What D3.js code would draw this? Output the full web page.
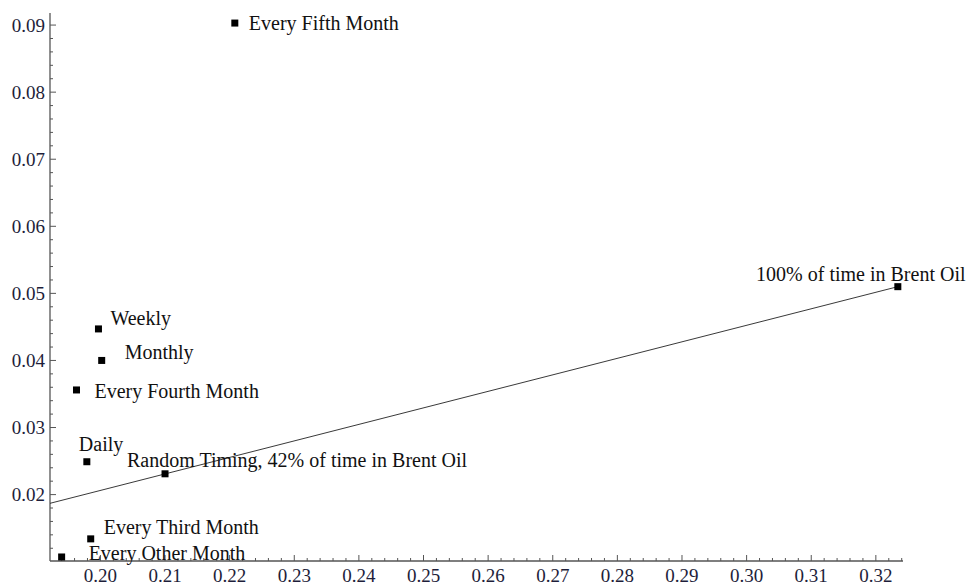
<!DOCTYPE html>
<html><head><meta charset="utf-8">
<script src="https://cdn.jsdelivr.net/npm/d3@7"></script>
<style>body{margin:0;background:#fff;} svg{display:block;}</style>
</head><body>
<svg id="chart" width="968" height="585"></svg>
<script>
const labels = ["Every Fifth Month","100% of time in Brent Oil","Weekly","Monthly","Every Fourth Month","Daily","Random Timing, 42% of time in Brent Oil","Every Third Month","Every Other Month"];
const xValues = [0.2208, 0.3234, 0.1997, 0.2002, 0.1963, 0.1979, 0.2100, 0.1985, 0.1940];
const yValues = [0.0903, 0.0510, 0.0447, 0.0400, 0.0356, 0.0249, 0.0231, 0.0134, 0.0107];
const lineX = [0.1922, 0.3234];
const lineY = [0.0187, 0.0510];
const xTicks = [0.20,0.21,0.22,0.23,0.24,0.25,0.26,0.27,0.28,0.29,0.30,0.31,0.32];
const yTicks = [0.02,0.03,0.04,0.05,0.06,0.07,0.08,0.09];

// label placement (layout only)
const labelOffsets = [[14,0,"start"],[-37,-13,"middle"],[12,-11,"start"],[23,-8,"start"],[18,1,"start"],[-8,-18,"start"],[-38,-14,"start"],[13,-12,"start"],[27,-4,"start"]];

const svg = d3.select("#chart");
const x = d3.scaleLinear().domain([0.1922, 0.3242]).range([50, 903]);
const y = d3.scaleLinear().domain([0.0101, 0.0918]).range([561, 13]);
const font = "'Liberation Serif','Times New Roman',serif";
const axisColor = "#555";

const xMinor = d3.range(0.194, 0.3241, 0.002).filter(v => Math.abs(Math.round(v*100)-v*100) > 1e-6);
const yMinor = d3.range(0.012, 0.0918, 0.002).filter(v => Math.abs(Math.round(v*100)-v*100) > 1e-6);

const gx = svg.append("g");
gx.append("line").attr("x1",50).attr("x2",903).attr("y1",561).attr("y2",561).attr("stroke",axisColor).attr("stroke-width",1.3);
gx.selectAll(".mj").data(xTicks).enter().append("line")
  .attr("x1",d=>x(d)).attr("x2",d=>x(d)).attr("y1",561).attr("y2",555).attr("stroke",axisColor);
gx.selectAll(".mn").data(xMinor).enter().append("line")
  .attr("x1",d=>x(d)).attr("x2",d=>x(d)).attr("y1",561).attr("y2",558).attr("stroke",axisColor);
gx.selectAll("text").data(xTicks).enter().append("text")
  .attr("x",d=>x(d)).attr("y",582).attr("text-anchor","middle")
  .attr("font-family",font).attr("font-size",19).attr("fill","#1e1e3a")
  .text(d=>d3.format(".2f")(d));

const gy = svg.append("g");
gy.append("line").attr("x1",50).attr("x2",50).attr("y1",13).attr("y2",561).attr("stroke",axisColor).attr("stroke-width",1.3);
gy.selectAll(".mj").data(yTicks).enter().append("line")
  .attr("x1",50).attr("x2",56).attr("y1",d=>y(d)).attr("y2",d=>y(d)).attr("stroke",axisColor);
gy.selectAll(".mn").data(yMinor).enter().append("line")
  .attr("x1",50).attr("x2",53).attr("y1",d=>y(d)).attr("y2",d=>y(d)).attr("stroke",axisColor);
gy.selectAll("text").data(yTicks).enter().append("text")
  .attr("x",45).attr("y",d=>y(d)+6.5).attr("text-anchor","end")
  .attr("font-family",font).attr("font-size",19).attr("fill","#1e1e3a")
  .text(d=>d3.format(".2f")(d));

svg.append("path")
  .datum(lineX.map((v,i)=>[v,lineY[i]]))
  .attr("d", d3.line().x(d=>x(d[0])).y(d=>y(d[1])))
  .attr("fill","none").attr("stroke","#222").attr("stroke-width",0.9);

const pts = labels.map((l,i)=>({label:l, x:xValues[i], y:yValues[i], off:labelOffsets[i]}));
svg.selectAll(".pt").data(pts).enter().append("rect")
  .attr("x",d=>x(d.x)-3.5).attr("y",d=>y(d.y)-3.5).attr("width",7).attr("height",7).attr("fill","#000");
svg.selectAll(".lb").data(pts).enter().append("text")
  .attr("x",d=>x(d.x)+d.off[0]).attr("y",d=>y(d.y)+d.off[1]+7)
  .attr("text-anchor",d=>d.off[2])
  .attr("font-family",font).attr("font-size",20).attr("fill","#111")
  .text(d=>d.label);
</script>
</body></html>
